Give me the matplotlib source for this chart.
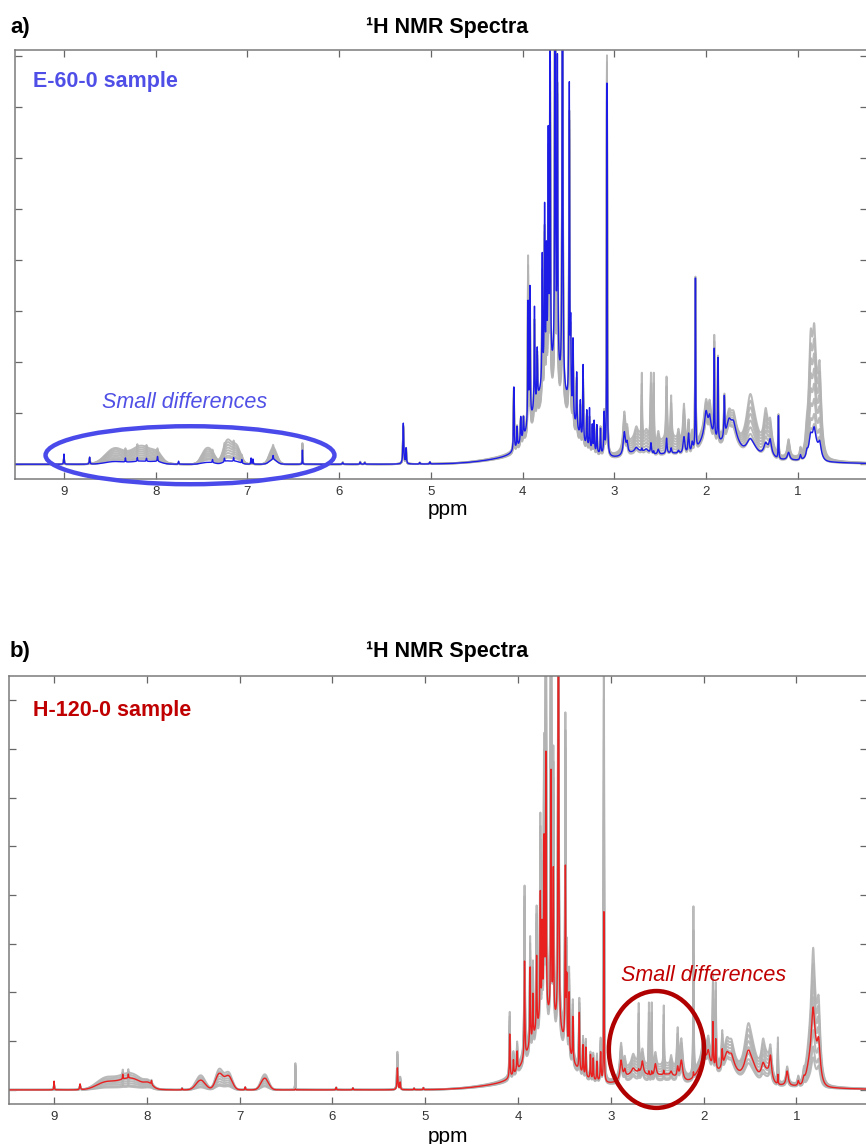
import numpy as np
import matplotlib
matplotlib.use("Agg")
import matplotlib.pyplot as plt
from matplotlib.patches import Ellipse

plt.rcParams['font.family'] = ['Liberation Sans', 'DejaVu Sans']

# ---------------- data ----------------
x_ticks = [9, 8, 7, 6, 5, 4, 3, 2, 1]
y_ticks = [0, 1, 2, 3, 4, 5, 6, 7, 8]
gray_mix = [1.0, 0.85, 0.7, 0.55, 0.4, 0.25, 0.1, 0.0]   # position of each grey sample between low/high

# Panel a: sharp (Lorentzian) peaks: ppm, half width, E-60-0 height, grey high, grey low
a_pk_ppm = [9.00, 8.72, 8.33, 8.20, 8.10, 7.98, 7.75, 7.38, 7.25, 7.15, 7.06, 6.96, 6.94, 6.72, 6.40,
            5.96, 5.77, 5.72, 5.30, 5.27, 5.12, 5.01,
            4.095, 4.06, 4.02, 3.99, 3.94, 3.92, 3.87, 3.84, 3.785, 3.76, 3.74, 3.72, 3.70, 3.645, 3.62,
            3.565, 3.49, 3.475, 3.45, 3.41, 3.37, 3.34, 3.30, 3.27, 3.24, 3.22, 3.19, 3.15, 3.11, 3.08,
            2.89, 2.86, 2.76, 2.70, 2.65, 2.60, 2.57, 2.52, 2.43, 2.38, 2.30, 2.24, 2.19, 2.15, 2.115,
            2.00, 1.96, 1.91, 1.87, 1.80, 1.75, 1.70, 1.52, 1.35, 1.30, 1.21, 1.10, 0.97, 0.90, 0.86,
            0.82, 0.76]
a_pk_hw = [0.003, 0.004, 0.003, 0.003, 0.003, 0.004, 0.003, 0.003, 0.003, 0.003, 0.003, 0.003, 0.003, 0.004, 0.002,
           0.004, 0.004, 0.004, 0.005, 0.004, 0.004, 0.004,
           0.004, 0.004, 0.005, 0.005, 0.004, 0.004, 0.004, 0.004, 0.004, 0.004, 0.004, 0.004, 0.004, 0.004, 0.004,
           0.004, 0.004, 0.004, 0.004, 0.004, 0.004, 0.004, 0.004, 0.004, 0.004, 0.004, 0.004, 0.004, 0.005, 0.003,
           0.014, 0.010, 0.020, 0.003, 0.020, 0.006, 0.003, 0.010, 0.006, 0.006, 0.010, 0.012, 0.008, 0.010, 0.003,
           0.020, 0.015, 0.003, 0.003, 0.005, 0.030, 0.030, 0.040, 0.020, 0.015, 0.003, 0.015, 0.008, 0.010, 0.020,
           0.020, 0.018]
a_pk_main = [0.20, 0.14, 0.08, 0.07, 0.06, 0.10, 0.06, 0.06, 0.07, 0.07, 0.07, 0.12, 0.10, 0.08, 0.28,
             0.03, 0.04, 0.03, 0.80, 0.30, 0.03, 0.04,
             1.25, 0.40, 0.50, 0.40, 2.40, 2.60, 2.00, 1.00, 2.50, 3.30, 2.30, 4.50, 6.20, 12.0, 6.00,
             12.0, 6.30, 1.50, 1.50, 1.10, 0.70, 1.50, 0.70, 0.80, 0.50, 0.60, 0.55, 0.50, 0.80, 7.30,
             0.45, 0.20, 0.08, 0.05, 0.06, 0.20, 0.05, 0.10, 0.30, 0.10, 0.06, 0.35, 0.40, 0.20, 3.40,
             0.45, 0.30, 1.70, 1.60, 0.80, 0.30, 0.25, 0.15, 0.15, 0.25, 0.85, 0.15, 0.10, 0.10, 0.30,
             0.35, 0.25]
a_pk_ghi = [0.12, 0.12, 0.05, 0.05, 0.04, 0.06, 0.03, 0.04, 0.05, 0.05, 0.04, 0.08, 0.06, 0.06, 0.42,
            0.04, 0.05, 0.04, 0.75, 0.30, 0.03, 0.04,
            1.20, 0.40, 0.45, 0.40, 3.30, 2.50, 1.80, 1.00, 2.30, 3.00, 2.20, 4.30, 6.00, 11.0, 5.60,
            11.0, 5.80, 1.40, 1.30, 1.00, 0.60, 1.20, 0.60, 0.60, 0.40, 0.50, 0.45, 0.50, 0.80, 7.80,
            0.70, 0.30, 0.20, 1.20, 0.15, 1.30, 1.30, 0.20, 1.20, 0.80, 0.20, 0.80, 0.50, 0.30, 3.30,
            0.50, 0.40, 1.80, 1.50, 0.70, 0.35, 0.30, 0.50, 0.45, 0.30, 0.80, 0.35, 0.15, 0.20, 1.40,
            1.10, 1.20]
a_pk_glo = [0.08, 0.06, 0.02, 0.02, 0.02, 0.03, 0.01, 0.02, 0.02, 0.02, 0.02, 0.04, 0.03, 0.03, 0.25,
            0.02, 0.02, 0.02, 0.60, 0.20, 0.02, 0.02,
            0.90, 0.30, 0.35, 0.30, 2.20, 1.80, 1.40, 0.70, 1.80, 2.40, 1.70, 3.50, 5.00, 9.00, 4.50,
            9.00, 4.80, 1.00, 1.00, 0.80, 0.40, 0.90, 0.40, 0.50, 0.30, 0.35, 0.30, 0.30, 0.50, 7.00,
            0.40, 0.15, 0.08, 0.15, 0.06, 0.25, 0.25, 0.08, 0.25, 0.15, 0.08, 0.30, 0.30, 0.15, 3.00,
            0.35, 0.25, 1.20, 1.10, 0.50, 0.25, 0.20, 0.15, 0.10, 0.20, 0.55, 0.15, 0.08, 0.08, 0.35,
            0.35, 0.30]
# Panel a: broad (Gaussian) humps: ppm, sigma, E-60-0 height, grey high, grey low
a_hp_ppm = [8.45, 8.15, 7.98, 7.45, 7.38, 7.22, 7.12, 6.72, 3.68, 3.70, 2.72, 2.38, 1.97, 1.72, 1.50, 1.33,
            1.90, 0.82]
a_hp_sig = [0.10, 0.12, 0.05, 0.05, 0.04, 0.045, 0.045, 0.04, 0.17, 0.45, 0.12, 0.12, 0.09, 0.08, 0.06, 0.05,
            0.80, 0.05]
a_hp_main = [0.05, 0.06, 0.03, 0.03, 0.02, 0.06, 0.05, 0.09, 1.50, 0.25, 0.15, 0.10, 0.45, 0.40, 0.22, 0.15,
             0.12, 0.25]
a_hp_ghi = [0.30, 0.36, 0.12, 0.28, 0.14, 0.45, 0.35, 0.32, 1.30, 0.30, 0.40, 0.35, 0.55, 0.45, 0.70, 0.45,
            0.18, 1.20]
a_hp_glo = [0.08, 0.10, 0.04, 0.07, 0.05, 0.12, 0.10, 0.10, 1.10, 0.22, 0.12, 0.10, 0.40, 0.35, 0.25, 0.15,
            0.10, 0.30]

# Panel b: sharp peaks
b_pk_ppm = [9.00, 8.72, 8.26, 8.20, 7.95, 7.62, 6.94, 6.40, 5.96, 5.78, 5.30, 5.27, 5.12, 5.02,
            4.09, 4.05, 4.01, 3.93, 3.87, 3.84, 3.80, 3.76, 3.74, 3.72, 3.70, 3.645, 3.62, 3.565, 3.49,
            3.475, 3.45, 3.41, 3.34, 3.30, 3.27, 3.22, 3.19, 3.15, 3.11, 3.075,
            2.89, 2.85, 2.76, 2.70, 2.66, 2.59, 2.56, 2.52, 2.43, 2.35, 2.28, 2.24, 2.11, 2.00, 1.95,
            1.90, 1.87, 1.80, 1.75, 1.70, 1.52, 1.36, 1.28, 1.20, 1.10, 0.98, 0.92, 0.82, 0.76]
b_pk_hw = [0.003, 0.005, 0.003, 0.003, 0.004, 0.003, 0.004, 0.002, 0.004, 0.004, 0.005, 0.004, 0.004, 0.004,
           0.004, 0.004, 0.005, 0.004, 0.004, 0.004, 0.004, 0.004, 0.004, 0.004, 0.004, 0.004, 0.004, 0.004, 0.004,
           0.004, 0.004, 0.004, 0.004, 0.004, 0.004, 0.004, 0.004, 0.004, 0.005, 0.003,
           0.014, 0.010, 0.020, 0.003, 0.012, 0.003, 0.003, 0.012, 0.003, 0.010, 0.008, 0.016, 0.003, 0.020, 0.015,
           0.004, 0.004, 0.006, 0.030, 0.030, 0.035, 0.020, 0.014, 0.003, 0.014, 0.008, 0.010, 0.020, 0.018]
b_pk_main = [0.18, 0.12, 0.10, 0.08, 0.08, 0.03, 0.06, 0.02, 0.05, 0.04, 0.45, 0.15, 0.03, 0.04,
             0.90, 0.30, 0.40, 2.00, 1.60, 0.90, 1.50, 2.60, 1.80, 3.50, 5.30, 5.00, 3.00, 12.0, 3.60,
             1.30, 1.20, 0.90, 1.20, 0.60, 0.60, 0.50, 0.45, 0.40, 0.60, 3.50,
             0.40, 0.15, 0.10, 0.05, 0.25, 0.08, 0.08, 0.25, 0.08, 0.08, 0.20, 0.40, 0.10, 0.30, 0.25,
             0.90, 0.60, 0.35, 0.25, 0.20, 0.25, 0.20, 0.45, 0.20, 0.30, 0.10, 0.10, 0.90, 0.60]
b_pk_ghi = [0.12, 0.10, 0.10, 0.08, 0.06, 0.04, 0.05, 0.55, 0.05, 0.04, 0.78, 0.25, 0.03, 0.04,
            1.30, 0.40, 0.50, 3.40, 2.00, 1.30, 2.20, 3.80, 2.50, 5.00, 9.50, 11.0, 5.00, 12.0, 6.50,
            1.60, 1.50, 1.10, 1.40, 0.70, 0.70, 0.50, 0.50, 0.50, 0.80, 9.50,
            0.65, 0.25, 0.20, 1.20, 0.30, 1.30, 1.30, 0.30, 1.20, 0.20, 0.80, 0.70, 3.40, 0.40, 0.35,
            1.70, 1.60, 0.55, 0.35, 0.30, 0.45, 0.40, 0.45, 0.90, 0.35, 0.15, 0.15, 1.50, 1.10]
b_pk_glo = [0.06, 0.05, 0.03, 0.03, 0.03, 0.02, 0.03, 0.30, 0.03, 0.02, 0.45, 0.15, 0.02, 0.02,
            0.80, 0.25, 0.35, 2.20, 1.40, 0.80, 1.60, 2.60, 1.80, 3.50, 6.00, 7.00, 3.50, 9.00, 4.50,
            1.00, 1.00, 0.70, 0.90, 0.40, 0.40, 0.30, 0.30, 0.30, 0.50, 4.00,
            0.35, 0.10, 0.08, 0.15, 0.15, 0.25, 0.25, 0.15, 0.25, 0.08, 0.25, 0.30, 0.25, 0.30, 0.20,
            0.80, 0.70, 0.30, 0.20, 0.15, 0.15, 0.10, 0.25, 0.25, 0.15, 0.08, 0.08, 0.35, 0.30]
# Panel b: broad humps
b_hp_ppm = [8.45, 8.18, 7.98, 7.42, 7.22, 7.12, 6.73, 3.68, 3.70, 2.72, 2.40, 1.97, 1.72, 1.50, 1.33,
            1.90, 0.82]
b_hp_sig = [0.10, 0.13, 0.04, 0.05, 0.04, 0.04, 0.04, 0.17, 0.45, 0.12, 0.12, 0.09, 0.08, 0.06, 0.05,
            0.80, 0.05]
b_hp_main = [0.14, 0.24, 0.08, 0.20, 0.33, 0.28, 0.24, 1.20, 0.25, 0.25, 0.20, 0.40, 0.35, 0.45, 0.25,
             0.12, 0.70]
b_hp_ghi = [0.22, 0.34, 0.10, 0.30, 0.42, 0.35, 0.32, 1.50, 0.30, 0.40, 0.35, 0.50, 0.45, 0.75, 0.50,
            0.18, 1.25]
b_hp_glo = [0.04, 0.06, 0.03, 0.05, 0.08, 0.07, 0.07, 1.00, 0.20, 0.12, 0.10, 0.35, 0.30, 0.30, 0.15,
            0.10, 0.25]


# ---------------- build spectra ----------------
def spectrum(x, pk_ppm, pk_hw, pk_h, hp_ppm, hp_sig, hp_h):
    y = np.zeros_like(x)
    for p, w, h in zip(pk_ppm, pk_hw, pk_h):
        y += h * w ** 2 / ((x - p) ** 2 + w ** 2)
    for p, s, h in zip(hp_ppm, hp_sig, hp_h):
        y += h * np.exp(-0.5 * ((x - p) / s) ** 2)
    return y


def mix(lo, hi, f):
    return [l + f * (h - l) for l, h in zip(lo, hi)]


W, H = 866, 1144
fig = plt.figure(figsize=(W / 100, H / 100), dpi=100)

panels = [
    dict(rect=[15 / W, 665 / H, 852 / W, 429 / H], xlim=(9.534, 0.245), ylim=(-0.29, 8.12),
         pk=(a_pk_ppm, a_pk_hw, a_pk_main, a_pk_ghi, a_pk_glo),
         hp=(a_hp_ppm, a_hp_sig, a_hp_main, a_hp_ghi, a_hp_glo),
         color='#1c1ce6', label='E-60-0 sample', lab_color='#4f4fe8', lab_pos=(0.021, 0.926),
         tag='a)', tag_y=1 - 27 / H, ppm_y=1 - 509 / H,
         note_xy=(7.69, 1.20), note_color='#5050e6',
         ell=dict(xy=(7.626, 0.176), width=3.15, height=1.137), ell_color='#4a4aeb'),
    dict(rect=[9 / W, 40 / H, 858 / W, 428 / H], xlim=(9.486, 0.24), ylim=(-0.29, 8.5),
         pk=(b_pk_ppm, b_pk_hw, b_pk_main, b_pk_ghi, b_pk_glo),
         hp=(b_hp_ppm, b_hp_sig, b_hp_main, b_hp_ghi, b_hp_glo),
         color='#e82020', label='H-120-0 sample', lab_color='#c00000', lab_pos=(0.028, 0.92),
         tag='b)', tag_y=1 - 652 / H, ppm_y=1 - 1136 / H,
         note_xy=(2.0, 2.35), note_color='#c00000',
         ell=dict(xy=(2.509, 0.83), width=1.026, height=2.4), ell_color='#b00000'),
]

for P in panels:
    ax = fig.add_axes(P['rect'])
    x = np.linspace(P['xlim'][1], P['xlim'][0], 12000)
    pk_ppm, pk_hw, pk_main, pk_ghi, pk_glo = P['pk']
    hp_ppm, hp_sig, hp_main, hp_ghi, hp_glo = P['hp']
    for f in gray_mix:
        yg = spectrum(x, pk_ppm, pk_hw, mix(pk_glo, pk_ghi, f), hp_ppm, hp_sig, mix(hp_glo, hp_ghi, f))
        ax.plot(x, yg, color='#b3b3b3', lw=1.4, alpha=0.9)
    ym = spectrum(x, pk_ppm, pk_hw, pk_main, hp_ppm, hp_sig, hp_main)
    ax.plot(x, ym, color=P['color'], lw=1.0)

    ax.set_xlim(*P['xlim'])
    ax.set_ylim(*P['ylim'])
    ax.set_xticks(x_ticks)
    ax.set_xticklabels([str(t) for t in x_ticks])
    ax.set_yticks(y_ticks)
    ax.set_yticklabels([])
    ax.tick_params(direction='in', length=5, width=0.9, color='#666666', top=True, right=True,
                   labelsize=9.5, labelcolor='#333333', pad=5)
    for s in ax.spines.values():
        s.set_color('#7a7a7a')
        s.set_linewidth(1.1)

    ax.text(P['lab_pos'][0], P['lab_pos'][1], P['label'], transform=ax.transAxes, color=P['lab_color'],
            fontsize=15.5, fontweight='bold', ha='left', va='center')
    ax.text(P['note_xy'][0], P['note_xy'][1], 'Small differences', color=P['note_color'],
            fontsize=15.5, fontstyle='italic', ha='center', va='center')
    e = Ellipse(P['ell']['xy'], P['ell']['width'], P['ell']['height'], fill=False,
                edgecolor=P['ell_color'], lw=3.2, clip_on=False, zorder=5)
    ax.add_patch(e)

    fig.text(10 / W, P['tag_y'], P['tag'], fontsize=16, fontweight='bold', ha='left', va='center')
    fig.text(447 / W, P['tag_y'], '\u00b9H NMR Spectra', fontsize=15.5, fontweight='bold',
             ha='center', va='center')
    fig.text(448 / W, P['ppm_y'], 'ppm', fontsize=15, ha='center', va='center')

fig.savefig('out.png', dpi=100)
